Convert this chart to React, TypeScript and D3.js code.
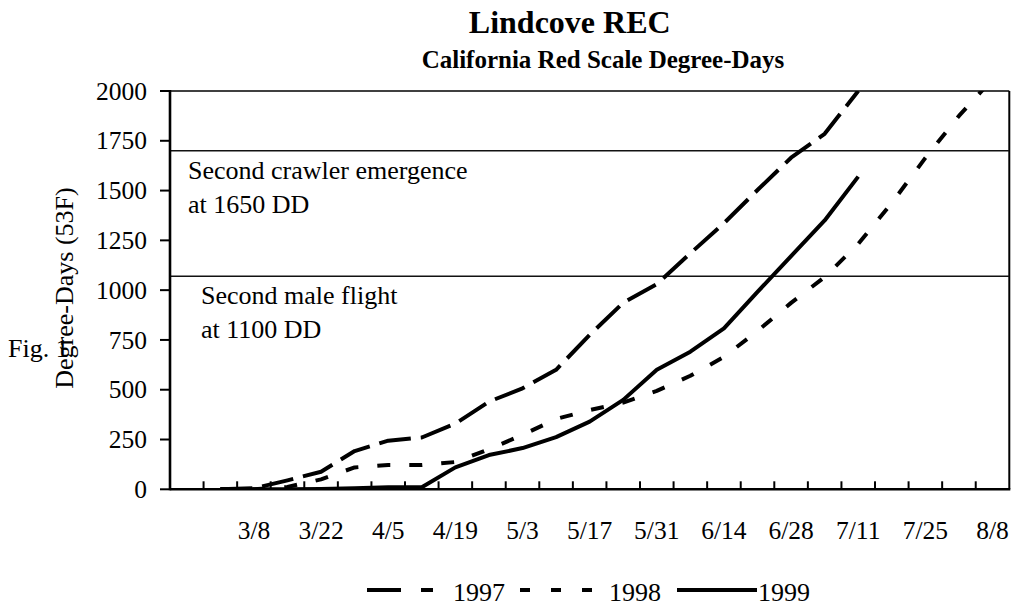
import React from "react";
import * as d3 from "d3";

const categories = ["2/22","3/1","3/8","3/15","3/22","3/29","4/5","4/12","4/19","4/26","5/3","5/10","5/17","5/24","5/31","6/7","6/14","6/21","6/28","7/5","7/11","7/18","7/25","8/1","8/8"];
const tickLabels = ["3/8","3/22","4/5","4/19","5/3","5/17","5/31","6/14","6/28","7/11","7/25","8/8"];
const yTicks = [0, 250, 500, 750, 1000, 1250, 1500, 1750, 2000];

const dd1997: (number | null)[] = [null, 0, 5, 45, 88, 192, 244, 260, 330, 440, 507, 600, 775, 937, 1030, 1185, 1336, 1503, 1665, 1785, 2000, null, null, null, null];
const dd1998: (number | null)[] = [null, 0, 0, 12, 50, 110, 122, 122, 137, 201, 273, 353, 398, 435, 494, 570, 665, 795, 936, 1066, 1232, 1438, 1664, 1875, 2060];
const dd1999: (number | null)[] = [null, 0, 0, 0, 2, 5, 10, 10, 110, 172, 207, 262, 340, 449, 600, 691, 808, 991, 1171, 1350, 1570, null, null, null, null];

const refLines = [1700, 1070];

const FONT = "'Liberation Serif', 'Times New Roman', serif";

export default function App() {
  const left = 170, right = 1009.3, top = 91, bottom = 489.3;
  const x = d3.scaleBand<string>().domain(categories).range([left, right]).padding(0);
  const bw = x.bandwidth();
  const y = d3.scaleLinear().domain([0, 2000]).range([bottom, top]);
  const cx = (i: number) => (x(categories[i]) as number) + bw / 2;
  const line = d3
    .line<number | null>()
    .defined((d) => d != null)
    .x((_, i) => cx(i))
    .y((d) => y(d as number));

  const series = [
    { name: "1997", data: dd1997, dash: "32 10" },
    { name: "1998", data: dd1998, dash: "13 19" },
    { name: "1999", data: dd1999, dash: "none" },
  ];

  const legY = 590;
  const legText = 601;

  return (
    <svg
      width={1013}
      height={607}
      style={{ position: "absolute", left: 0, top: 0 }}
      fontFamily={FONT}
    >
      <defs>
        <clipPath id="plotClip">
          <rect x={left} y={top} width={right - left} height={bottom - top} />
        </clipPath>
      </defs>
      {/* Title */}
      <text x={569.7} y={33} textAnchor="middle" fontSize={32} fontWeight="bold">Lindcove REC</text>
      <text x={603} y={68} textAnchor="middle" fontSize={25} fontWeight="bold">California Red Scale Degree-Days</text>

      {/* Frame */}
      <line x1={left} x2={right} y1={top} y2={top} stroke="#000" strokeWidth={1.7} />
      <line x1={right} x2={right} y1={top} y2={bottom} stroke="#000" strokeWidth={2} />

      {/* Reference lines */}
      {refLines.map((v) => (
        <line key={v} x1={left} x2={right} y1={y(v)} y2={y(v)} stroke="#111" strokeWidth={1.4} />
      ))}

      {/* Annotations */}
      <text x={188} y={179} fontSize={26}>Second crawler emergence</text>
      <text x={188} y={213} fontSize={26}>at 1650 DD</text>
      <text x={201} y={304} fontSize={26}>Second male flight</text>
      <text x={201} y={338} fontSize={26}>at 1100 DD</text>

      {/* Series */}
      <g clipPath="url(#plotClip)">
        {series.map((s) => (
          <path
            key={s.name}
            d={line(s.data) || ""}
            fill="none"
            stroke="#000"
            strokeWidth={4}
            strokeDasharray={s.dash}
            strokeLinejoin="round"
          />
        ))}
      </g>

      {/* Y axis */}
      <line x1={left} x2={left} y1={top - 1} y2={bottom + 1} stroke="#000" strokeWidth={2.6} />
      {yTicks.map((t) => (
        <g key={t}>
          <line x1={left - 10} x2={left} y1={y(t)} y2={y(t)} stroke="#000" strokeWidth={2} />
          <text x={147} y={y(t)} dy="0.34em" textAnchor="end" fontSize={25.5}>{t}</text>
        </g>
      ))}

      {/* X axis */}
      <line x1={left} x2={right + 1} y1={bottom} y2={bottom} stroke="#000" strokeWidth={2.6} />
      {categories.slice(1).map((c) => (
        <line key={c} x1={x(c) as number} x2={x(c) as number} y1={bottom} y2={bottom - 8} stroke="#000" strokeWidth={2} />
      ))}
      {tickLabels.map((lab) => (
        <text key={lab} x={(x(lab) as number) + bw / 2} y={539} textAnchor="middle" fontSize={25.5}>{lab}</text>
      ))}

      {/* Axis title */}
      <text x={73} y={288} transform="rotate(-90, 73, 288)" textAnchor="middle" fontSize={26}>Degree-Days (53F)</text>
      <text x={8} y={357} fontSize={26}>Fig. 1</text>

      {/* Legend */}
      <line x1={367} x2={433} y1={legY} y2={legY} stroke="#000" strokeWidth={4} strokeDasharray="34 20" />
      <text x={453} y={legText} fontSize={26}>1997</text>
      <line x1={520} x2={594} y1={legY} y2={legY} stroke="#000" strokeWidth={4} strokeDasharray="10 21" />
      <text x={609} y={legText} fontSize={26}>1998</text>
      <line x1={677} x2={757} y1={legY} y2={legY} stroke="#000" strokeWidth={4} />
      <text x={758} y={legText} fontSize={26}>1999</text>
    </svg>
  );
}
